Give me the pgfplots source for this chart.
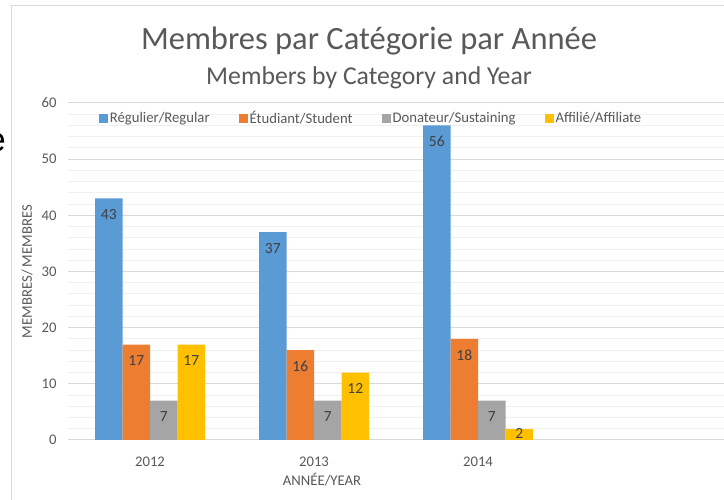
\documentclass[border=0pt]{standalone}
\usepackage{fontspec}
\setmainfont{Carlito}
\newfontfamily\arialfont{Liberation Sans}
\usepackage{pgfplots}
\pgfplotsset{compat=1.18}
\definecolor{cblue}{HTML}{5B9BD5}
\definecolor{corange}{HTML}{ED7D31}
\definecolor{cgray}{HTML}{A5A5A5}
\definecolor{cyellow}{HTML}{FFC000}
\definecolor{ctext}{HTML}{595959}
\definecolor{clabel}{HTML}{404040}
\definecolor{cgrid}{HTML}{D9D9D9}
\definecolor{cminor}{HTML}{F0F0F0}
\begin{document}
\begin{tikzpicture}[x=1pt,y=1pt]
\useasboundingbox (0,0) rectangle (724,500);
\fill[white] (0,0) rectangle (724,500);
\draw[color=cgrid, line width=1pt] (11,-2) -- (11,494.5) -- (726,494.5);
\node[anchor=east, inner sep=0pt, font=\arialfont\fontsize{34}{36}\selectfont] at (6,357) {e};
\node[text=ctext, font=\fontsize{32.5}{34}\selectfont] at (369,459) {Membres par Catégorie par Année};
\node[text=ctext, font=\fontsize{25.7}{27}\selectfont] at (369,422) {Members by Category and Year};
\node[text=ctext, font=\fontsize{14.7}{16}\selectfont] at (322,20) {ANNÉE/YEAR};
\node[text=ctext, rotate=90, font=\fontsize{14.7}{16}\selectfont] at (27,228.5) {MEMBRES/ MEMBRES};
\begin{axis}[
  at={(68pt,60pt)}, anchor=south west,
  scale only axis, width=656pt, height=337pt,
  xmin=-0.5, xmax=3.5, ymin=0, ymax=60,
  ybar, bar width=27.5pt,
  xtick={0,1,2}, xticklabels={2012,2013,2014},
  ytick={0,10,20,30,40,50,60},
  minor y tick num=4,
  ymajorgrids, yminorgrids,
  major grid style={draw=cgrid, line width=1pt},
  minor grid style={draw=cminor, line width=1pt},
  axis line style={draw=none},
  tick style={draw=none},
  /pgf/number format/assume math mode=true,
  ticklabel style={text=ctext, font=\fontsize{14.7}{16}\selectfont},
  yticklabel style={xshift=-8pt},
  xticklabel style={yshift=-9pt},
  legend style={at={(axis description cs:0.462,0.955)}, anchor=center, draw=none, fill=none,
    font=\fontsize{14.7}{16}\selectfont, text=ctext, legend columns=4,
    /tikz/every even column/.append style={column sep=27pt}},
  legend image code/.code={\fill (0pt,-4.5pt) rectangle (9pt,4.5pt);},
  nodes near coords style={text=clabel, font=\fontsize{15.5}{17}\selectfont, anchor=north, yshift=-7.5pt},
]
\addplot[fill=cblue, draw=none, bar shift=-41.25pt, nodes near coords] coordinates {(0,43) (1,37) (2,56)};
\addplot[fill=corange, draw=none, bar shift=-13.75pt, nodes near coords] coordinates {(0,17) (1,16) (2,18)};
\addplot[fill=cgray, draw=none, bar shift=13.75pt, nodes near coords] coordinates {(0,7) (1,7) (2,7)};
\addplot[fill=cyellow, draw=none, bar shift=41.25pt, nodes near coords] coordinates {(0,17) (1,12)};
\addplot[fill=cyellow, draw=none, bar shift=41.25pt, forget plot, nodes near coords,
  nodes near coords style={anchor=south, yshift=-6pt}] coordinates {(2,2)};
\legend{Régulier/Regular, Étudiant/Student, Donateur/Sustaining, Affilié/Affiliate}
\end{axis}
\end{tikzpicture}
\end{document}
